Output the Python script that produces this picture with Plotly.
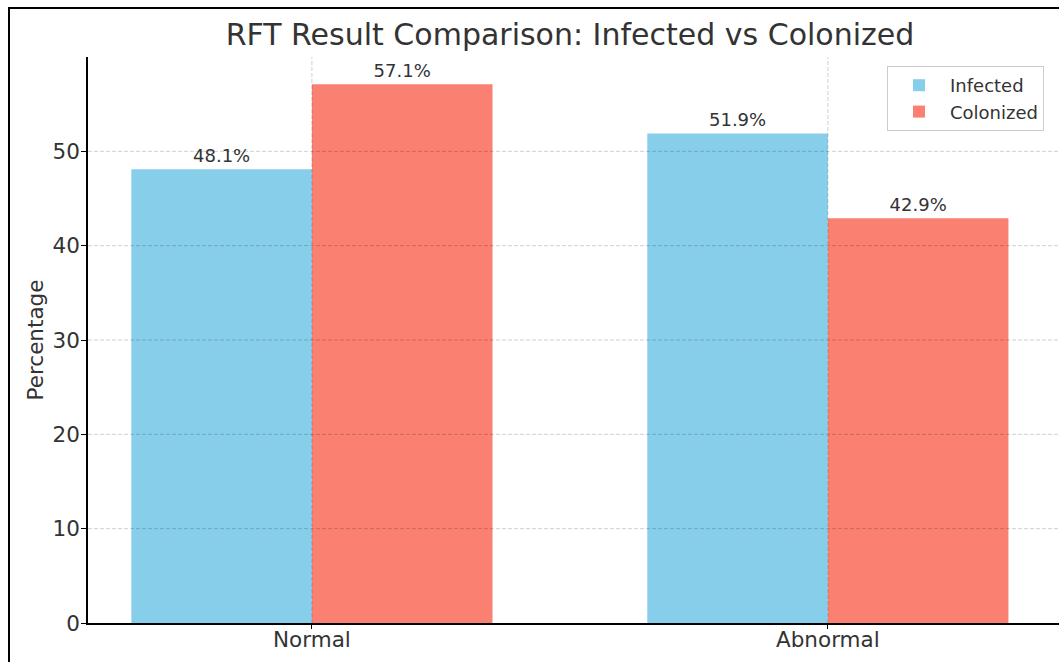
import plotly.graph_objects as go

# RFT outcome shares (%) per group
categories = ["Normal", "Abnormal"]
infected = [48.1, 51.9]
colonized = [57.1, 42.9]
y_ticks = [0, 10, 20, 30, 40, 50]

W, H = 1059, 662
ML, MR, MT, MB = 88, 0, 57, 39
plot_w = W - ML - MR
plot_h = H - MT - MB

FONT = "DejaVu Sans"
TXT = "#333333"

fig = go.Figure()
fig.add_trace(go.Bar(
    name="Infected", x=categories, y=infected,
    marker=dict(color="#87CEEB", line=dict(width=0)),
    text=[f"{v:.1f}%" for v in infected], textposition="outside",
    textfont=dict(size=18, color=TXT, family=FONT), cliponaxis=False,
))
fig.add_trace(go.Bar(
    name="Colonized", x=categories, y=colonized,
    marker=dict(color="#FA8072", line=dict(width=0)),
    text=[f"{v:.1f}%" for v in colonized], textposition="outside",
    textfont=dict(size=18, color=TXT, family=FONT), cliponaxis=False,
))

shapes = []
grid_style = dict(color="rgba(0,0,0,0.19)", width=1, dash="4px,2px")
# horizontal grid on top of the bars
for t in y_ticks[1:]:
    shapes.append(dict(type="line", xref="paper", yref="y", x0=0, x1=1,
                       y0=t, y1=t, line=grid_style, layer="above"))
# vertical grid at each category
for i in range(len(categories)):
    shapes.append(dict(type="line", xref="x", yref="paper", x0=i, x1=i,
                       y0=0, y1=1, line=grid_style, layer="above"))
# outer figure frame
fx0 = (9 - ML) / plot_w
fy1 = 1 + (MT - 8) / plot_h
shapes.append(dict(type="rect", xref="paper", yref="paper",
                   x0=fx0, x1=1.1, y0=-0.3, y1=fy1,
                   line=dict(color="black", width=2), fillcolor="rgba(0,0,0,0)",
                   layer="above"))

fig.update_layout(
    width=W, height=H,
    margin=dict(l=ML, r=MR, t=MT, b=MB),
    paper_bgcolor="white", plot_bgcolor="white",
    font=dict(family=FONT, color=TXT),
    barmode="group", bargap=0.3, bargroupgap=0,
    title=dict(text="RFT Result Comparison: Infected vs Colonized",
               font=dict(size=30, color=TXT, family=FONT),
               x=(570 - ML) / plot_w, xanchor="center", xref="paper",
               y=1 - 34 / H, yanchor="middle", yref="container"),
    legend=dict(x=(1044 - ML) / plot_w, xanchor="right",
                y=1 - (66 - MT) / plot_h, yanchor="top",
                bgcolor="white", bordercolor="#cccccc", borderwidth=1,
                itemwidth=52,
                font=dict(size=18, color=TXT, family=FONT)),
    shapes=shapes,
    showlegend=True,
)
fig.update_xaxes(
    range=[-0.434, 1.448], showgrid=False, zeroline=False,
    showline=True, linecolor="black", linewidth=1.5,
    ticks="outside", ticklen=4, tickcolor="black",
    ticklabelstandoff=-8,
    tickfont=dict(size=21.5, color=TXT, family=FONT),
)
fig.update_yaxes(
    range=[0, 60], tickvals=y_ticks, showgrid=False, zeroline=False,
    showline=True, linecolor="black", linewidth=1.5,
    ticks="outside", ticklen=5, tickcolor="black",
    ticklabelstandoff=-3,
    tickfont=dict(size=21.5, color=TXT, family=FONT),
    title=dict(text="Percentage", font=dict(size=21.5, color=TXT, family=FONT),
               standoff=3),
)

fig.write_html("out.html")
